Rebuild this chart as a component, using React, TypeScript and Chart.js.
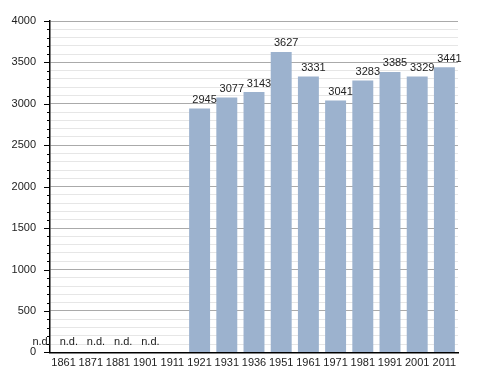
import React, { useEffect, useRef } from "react";
import { Chart, registerables } from "chart.js";

Chart.register(...registerables);

const years = ["1861", "1871", "1881", "1901", "1911", "1921", "1931", "1936", "1951", "1961", "1971", "1981", "1991", "2001", "2011"];
const population: (number | null)[] = [null, null, null, null, null, 2945, 3077, 3143, 3627, 3331, 3041, 3283, 3385, 3329, 3441];
const missingLabels = ["n.d.", "n.d.", "n.d.", "n.d.", "n.d.", "", "", "", "", "", "", "", "", "", ""];

const FONT = "'Liberation Sans', Arial, sans-serif";

const annotate = {
  id: "annotate",
  afterDatasetsDraw(chart: any) {
    const ctx = chart.ctx;
    const meta = chart.getDatasetMeta(0);
    const yScale = chart.scales.y;
    const xScale = chart.scales.x;
    const area = chart.chartArea;
    ctx.save();
    // tick marks on y axis
    ctx.strokeStyle = "#000";
    ctx.lineWidth = 1;
    for (let v = 0; v <= 4000; v += 100) {
      const y = Math.round(yScale.getPixelForValue(v)) + 0.5;
      const len = v % 500 === 0 ? 6 : 3;
      ctx.beginPath();
      ctx.moveTo(area.left - len, y);
      ctx.lineTo(area.left, y);
      ctx.stroke();
    }
    ctx.font = "11px " + FONT;
    ctx.fillStyle = "#222";
    ctx.textAlign = "center";
    ctx.textBaseline = "bottom";
    meta.data.forEach((bar: any, i: number) => {
      const v = population[i];
      if (v != null) {
        ctx.fillText(String(v), bar.x + 5, bar.y - 3);
      }
    });
    missingLabels.forEach((t, i) => {
      if (!t) return;
      const x = xScale.getPixelForValue(i) - 22;
      ctx.fillText(t, x, yScale.getPixelForValue(0) - 5);
    });
    ctx.restore();
  },
};

export default function App() {
  const ref = useRef<HTMLCanvasElement | null>(null);
  useEffect(() => {
    if (!ref.current) return;
    const chart = new Chart(ref.current, {
      type: "bar",
      data: {
        labels: years,
        datasets: [
          {
            data: population as any,
            backgroundColor: "rgb(156,178,206)",
            borderWidth: 0,
            categoryPercentage: 1,
            barPercentage: 0.77,
          },
        ],
      },
      options: {
        animation: false,
        responsive: false,
        maintainAspectRatio: false,
        layout: { padding: { left: 0, top: 21, right: 30, bottom: 0 } },
        plugins: { legend: { display: false }, tooltip: { enabled: false } },
        scales: {
          x: {
            grid: { display: false, drawTicks: false },
            border: { display: true, color: "#000", width: 1.5 },
            ticks: { color: "#222", font: { family: FONT, size: 11 }, padding: 4, maxRotation: 0, autoSkip: false },
            afterFit: (s: any) => { s.height = 20; },
          },
          y: {
            min: 0,
            max: 4000,
            grid: {
              drawTicks: false,
              color: (c: any) => (c.tick && c.tick.value % 500 === 0 ? "#aaaaaa" : "#e6e6e6"),
              lineWidth: 1,
            },
            border: { display: true, color: "#000", width: 1.5 },
            ticks: {
              stepSize: 100,
              autoSkip: false,
              color: "#222",
              font: { family: FONT, size: 11 },
              padding: 14,
              callback: (v: any) => (Number(v) % 500 === 0 ? String(v) : ""),
            },
            afterFit: (s: any) => { s.width = 50; },
          },
        },
      },
      plugins: [annotate],
    });
    return () => chart.destroy();
  }, []);
  return (
    <div style={{ position: "fixed", left: 0, top: 0, width: 488, height: 373, background: "#fff" }}>
      <canvas ref={ref} width={488} height={373} style={{ width: 488, height: 373 }} />
    </div>
  );
}
